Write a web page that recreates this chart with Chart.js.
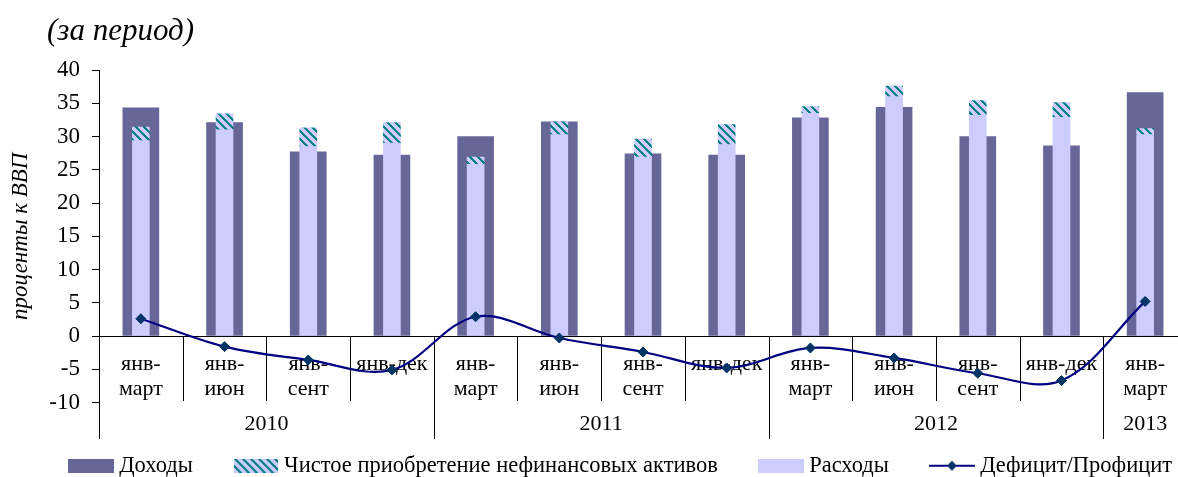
<!DOCTYPE html>
<html>
<head>
<meta charset="utf-8">
<script src="https://cdn.jsdelivr.net/npm/chart.js@4.4.1/dist/chart.umd.min.js"></script>
<style>
  html, body { margin: 0; padding: 0; background: #fff; overflow: hidden; }
  #wrap { position: relative; width: 1178px; height: 477px; overflow: hidden; }
  #box { position: absolute; left: 0; top: 0; width: 1247px; height: 487px; }
  #title { position: absolute; left: 47px; top: 12px; font: italic 31px "Liberation Serif", serif; color: #000; }
</style>
</head>
<body>
<div id="wrap">
  <div id="box"><canvas id="chart"></canvas></div>
  <div id="title">(за период)</div>
</div>
<script>
// categories: periods within each year
const periods = [
  ["янв-", "март"], ["янв-", "июн"], ["янв-", "сент"], ["янв-дек"],
  ["янв-", "март"], ["янв-", "июн"], ["янв-", "сент"], ["янв-дек"],
  ["янв-", "март"], ["янв-", "июн"], ["янв-", "сент"], ["янв-дек"],
  ["янв-", "март"]
];
const years = ["2010", "2011", "2012", "2013"];
const yearSpans = [4, 4, 4, 1];

// series, % of GDP
const income = [34.3, 32.1, 27.7, 27.2, 30.0, 32.2, 27.4, 27.2, 32.8, 34.4, 30.0, 28.6, 36.6];
const expenses = [29.4, 31.0, 28.5, 29.0, 25.8, 30.3, 26.9, 28.8, 33.5, 36.0, 33.2, 32.9, 30.3];
const nonFinAssets = [2.0, 2.4, 2.8, 3.1, 1.1, 1.9, 2.7, 3.0, 1.0, 1.6, 2.2, 2.2, 0.9];
const balance = [2.6, -1.6, -3.6, -5.1, 2.9, -0.3, -2.4, -4.8, -1.8, -3.3, -5.6, -6.7, 5.2];

const yTicks = [40, 35, 30, 25, 20, 15, 10, 5, 0, -5, -10];

const FONT = '"Liberation Serif", "Times New Roman", serif';
const DARK = "#666699";
const LIGHT = "#CCCCFF";
const TEAL = "#008080";
const NAVY = "#000080";

// hatch pattern for the net acquisition series
function makeHatch() {
  const c = document.createElement("canvas");
  c.width = 8; c.height = 8;
  const g = c.getContext("2d");
  g.fillStyle = LIGHT;
  g.fillRect(0, 0, 8, 8);
  g.fillStyle = TEAL;
  for (let y = 0; y < 8; y++) {
    for (let x = 0; x < 8; x++) {
      if (((x - y) % 8 + 8) % 8 < 3) g.fillRect(x, y, 1, 1);
    }
  }
  return g.createPattern(c, "repeat");
}
const hatch = makeHatch();

// little canvases used as legend markers
function marker(w, h, draw) {
  const c = document.createElement("canvas");
  c.width = w; c.height = h;
  draw(c.getContext("2d"), w, h);
  return c;
}
const mkDark = marker(46, 14, (g, w, h) => { g.fillStyle = DARK; g.fillRect(0, 0, w, h); });
const mkHatch = marker(44, 14, (g, w, h) => { g.fillStyle = hatch; g.fillRect(0, 0, w, h); });
const mkLight = marker(46, 14, (g, w, h) => { g.fillStyle = LIGHT; g.fillRect(0, 0, w, h); });
const mkLine = marker(46, 14, (g, w, h) => {
  g.strokeStyle = NAVY; g.lineWidth = 2;
  g.beginPath(); g.moveTo(0, 7); g.lineTo(w, 7); g.stroke();
  g.fillStyle = "#003366";
  g.beginPath(); g.moveTo(23, 2); g.lineTo(28, 7); g.lineTo(23, 12); g.lineTo(18, 7); g.closePath(); g.fill();
});

// category labels, separators and year row under the zero line
const xLabels = {
  id: "xLabels",
  beforeDatasetsDraw(chart) {
    const { ctx, chartArea } = chart;
    const x = chart.scales.x, y = chart.scales.y;
    const y0 = Math.round(y.getPixelForValue(0));
    const w = x.getPixelForValue(1) - x.getPixelForValue(0);
    ctx.save();
    ctx.strokeStyle = "#000";
    ctx.lineWidth = 1;
    ctx.beginPath();
    ctx.moveTo(chartArea.left, y0 + 0.5);
    ctx.lineTo(chartArea.right, y0 + 0.5);
    ctx.stroke();

    ctx.fillStyle = "#000";
    ctx.font = "22px " + FONT;
    ctx.textAlign = "center";
    ctx.textBaseline = "middle";
    periods.forEach((lines, i) => {
      const cx = x.getPixelForValue(i);
      lines.forEach((t, k) => ctx.fillText(t, cx, y0 + 28 + k * 25));
    });

    // separators: short ones between periods, long ones between years
    const yearStarts = [];
    let acc = 0;
    yearSpans.forEach(n => { yearStarts.push(acc); acc += n; });
    ctx.beginPath();
    for (let i = 0; i <= periods.length; i++) {
      const bx = Math.round(x.getPixelForValue(i) - w / 2) + 0.5;
      const long = yearStarts.includes(i) || i === periods.length;
      ctx.moveTo(bx, y0);
      ctx.lineTo(bx, y0 + (long ? 103 : 65));
    }
    ctx.stroke();

    years.forEach((t, j) => {
      const a = yearStarts[j], b = a + yearSpans[j] - 1;
      const cx = (x.getPixelForValue(a) + x.getPixelForValue(b)) / 2;
      ctx.fillText(t, cx, y0 + 88);
    });
    ctx.restore();
  }
};

const legendOrder = [0, 2, 1, 3];
const legendMarks = [mkDark, mkLight, mkHatch, mkLine];

new Chart(document.getElementById("chart"), {
  data: {
    labels: periods.map(p => p.join("")),
    datasets: [
      { type: "bar", label: "Доходы", data: income, backgroundColor: DARK,
        stack: "inc", grouped: false, barThickness: 36, order: 2 },
      { type: "bar", label: "Расходы", data: expenses, backgroundColor: LIGHT,
        stack: "exp", grouped: false, barThickness: 17, order: 1 },
      { type: "bar", label: "Чистое приобретение нефинансовых активов", data: nonFinAssets,
        backgroundColor: hatch, stack: "exp", grouped: false, barThickness: 17, order: 1 },
      { type: "line", label: "Дефицит/Профицит", data: balance, stack: "bal", order: 0,
        borderColor: NAVY, borderWidth: 2.2, tension: 0.35, fill: false,
        pointStyle: "rectRot", pointRadius: 5, pointBackgroundColor: "#003366",
        pointBorderColor: "#003366", pointBorderWidth: 1 }
    ]
  },
  options: {
    responsive: true,
    maintainAspectRatio: false,
    animation: false,
    layout: { padding: { top: 70, right: 0, left: 28, bottom: 0 } },
    scales: {
      x: {
        ticks: { display: false },
        grid: { display: false },
        border: { display: false },
        afterFit(s) { s.height = 6; }
      },
      y: {
        stacked: true,
        min: -10,
        max: 40,
        afterBuildTicks(s) { s.ticks = yTicks.map(v => ({ value: v })); },
        ticks: { color: "#000", font: { family: FONT, size: 23 }, padding: 12 },
        grid: { drawOnChartArea: false, drawTicks: true, tickLength: 7, color: "#000" },
        border: { display: true, color: "#000", width: 1 },
        title: { display: true, text: "проценты к ВВП", color: "#000",
          font: { family: FONT, size: 23, style: "italic" }, padding: { top: -21, bottom: 0 } },
        afterFit(s) { s.width = 71; }
      },
      // empty right-hand spacer so the plot runs past the window edge
      yPad: {
        type: "linear",
        axis: "y",
        position: "right",
        ticks: { display: false },
        grid: { display: false },
        border: { display: false },
        afterFit(s) { s.width = 60; }
      }
    },
    plugins: {
      tooltip: { enabled: false },
      legend: {
        position: "bottom",
        align: "start",
        labels: {
          usePointStyle: true,
          pointStyleWidth: 34,
          boxHeight: 14,
          padding: 46,
          color: "#000",
          font: { family: FONT, size: 22.5 },
          generateLabels(chart) {
            return legendOrder.map(i => ({
              text: chart.data.datasets[i].label,
              pointStyle: legendMarks[i],
              datasetIndex: i,
              fontColor: "#000",
              lineWidth: 0,
              hidden: false
            }));
          }
        }
      }
    }
  },
  plugins: [xLabels]
});
</script>
</body>
</html>
